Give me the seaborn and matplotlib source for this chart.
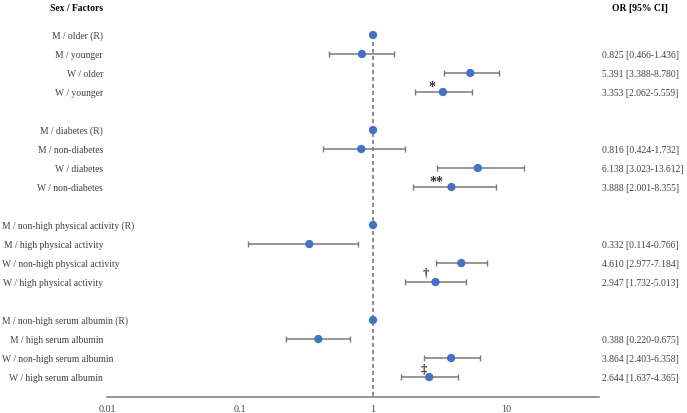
import numpy as np
import pandas as pd
import matplotlib
matplotlib.use("Agg")
import matplotlib.pyplot as plt
import matplotlib.transforms as mtransforms
import seaborn as sns

# data
labels = [
    "M / older (R)", "M / younger", "W / older", "W / younger",
    "M / diabetes (R)", "M / non-diabetes", "W / diabetes", "W / non-diabetes",
    "M / non-high physical activity (R)", "M / high physical activity",
    "W / non-high physical activity", "W / high physical activity",
    "M / non-high serum albumin (R)", "M / high serum albumin",
    "W / non-high serum albumin", "W / high serum albumin",
]
odds = [1, 0.825, 5.391, 3.353,
        1, 0.816, 6.138, 3.888,
        1, 0.332, 4.610, 2.947,
        1, 0.388, 3.864, 2.644]
ci_low = [np.nan, 0.466, 3.388, 2.062,
          np.nan, 0.424, 3.023, 2.001,
          np.nan, 0.114, 2.977, 1.732,
          np.nan, 0.220, 2.403, 1.637]
ci_high = [np.nan, 1.436, 8.780, 5.559,
           np.nan, 1.732, 13.612, 8.355,
           np.nan, 0.766, 7.184, 5.013,
           np.nan, 0.675, 6.358, 4.365]
marks = {3: "*", 7: "**", 11: "\u2020", 15: "\u2021"}
xticks = [0.01, 0.1, 1, 10]

sns.set_theme(style="white")
plt.rcParams["font.family"] = ["Liberation Serif", "DejaVu Serif"]

df = pd.DataFrame({"label": labels, "OR": odds, "lo": ci_low, "hi": ci_high})
df["row"] = [i + i // 4 for i in range(len(df))]  # blank row between groups

W, H = 687, 414
fig = plt.figure(figsize=(W / 100, H / 100), dpi=100)
ax = fig.add_axes([107 / W, (H - 398) / H, 492 / W, 398 / H])

grey = "#7a7a7a"
ax.set_xscale("log")
ax.set_xlim(0.01, 50)
ax.set_ylim(19.05, -1.895)

ax.vlines(1, 0, 19.05, colors="#8a8a8a", linestyles=(0, (2.0, 1.6)), lw=1.4, zorder=1)

err = df.dropna()
ax.errorbar(err["OR"], err["row"],
            xerr=[err["OR"] - err["lo"], err["hi"] - err["OR"]],
            fmt="none", ecolor=grey, elinewidth=1.1, capsize=2.5, capthick=1, zorder=2)
sns.scatterplot(data=df, x="OR", y="row", ax=ax, color="#4472C4", s=36,
                edgecolor="none", zorder=3, legend=False)

for sp in ["top", "left", "right"]:
    ax.spines[sp].set_visible(False)
ax.spines["bottom"].set_color(grey)
ax.spines["bottom"].set_linewidth(1.1)
ax.set_xticks(xticks)
ax.set_xticklabels([f"{t:g}" for t in xticks])
ax.minorticks_off()
ax.tick_params(axis="x", length=0, pad=5, labelsize=7.2, labelcolor="#404040")
ax.set_yticks([])
ax.set_xlabel("")
ax.set_ylabel("")

trans = mtransforms.blended_transform_factory(ax.transAxes, ax.transData)
fs = 6.9
ax.text(-0.008, -1.47, "Sex / Factors", transform=trans, ha="right", va="center",
        fontsize=fs, fontweight="bold", color="black")
ax.text(1.083, -1.47, "OR [95% CI]", transform=trans, ha="center", va="center",
        fontsize=fs, fontweight="bold", color="black")

name_texts = []
for _, r in df.iterrows():
    t = ax.text(-0.008, r["row"], r["label"], transform=trans, ha="right",
                va="center", fontsize=fs, color="#404040")
    name_texts.append(t)
    if not np.isnan(r["lo"]):
        ax.text(1.006, r["row"], f"{r['OR']:.3f} [{r['lo']:.3f}-{r['hi']:.3f}]",
                transform=trans, ha="left", va="center", fontsize=fs, color="#404040")

offsets = {3: (-8, 4), 7: (-11, 4), 11: (-7, 7), 15: (-4, 6)}
for i, m in marks.items():
    dx, dy = offsets[i]
    ax.annotate(m, (df["OR"][i], df["row"][i]), xytext=(dx, dy), textcoords="offset points",
                ha="center", va="center", fontsize=10 if "*" in m else 9,
                fontweight="bold", color="#333333")

# long labels that would run off the left edge start at the margin instead
fig.canvas.draw()
rend = fig.canvas.get_renderer()
for t in name_texts:
    bb = t.get_window_extent(rend)
    if bb.x0 < 2:
        t.set_ha("left")
        t.set_x(ax.transAxes.inverted().transform((2, 0))[0])

fig.savefig("out.png", dpi=100)
